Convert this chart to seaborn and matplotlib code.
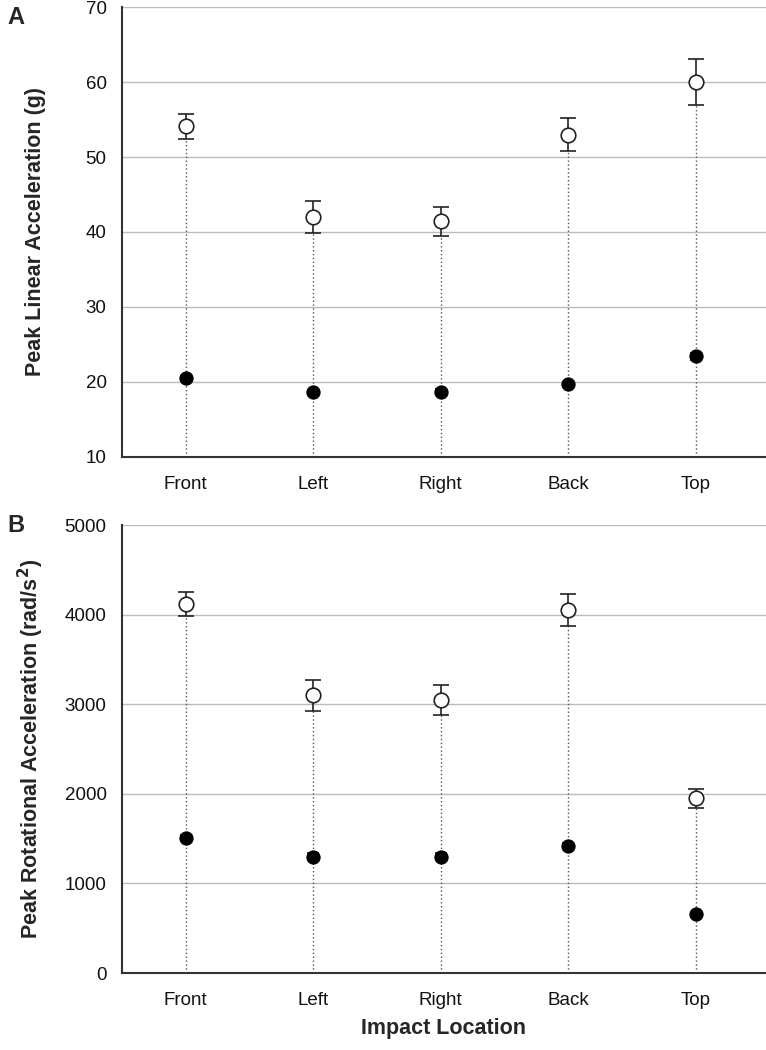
import pandas as pd
import matplotlib
matplotlib.use("Agg")
import matplotlib.pyplot as plt
import seaborn as sns

# data
locations = ['Front', 'Left', 'Right', 'Back', 'Top']

lin_open = [54.1, 42.0, 41.4, 53.0, 60.0]
lin_open_err = [1.7, 2.2, 2.0, 2.2, 3.1]
lin_fill = [20.5, 18.6, 18.7, 19.7, 23.4]
lin_fill_err = [0.3, 0.3, 0.3, 0.3, 0.5]

rot_open = [4120, 3100, 3050, 4050, 1950]
rot_open_err = [130, 175, 170, 180, 105]
rot_fill = [1510, 1300, 1300, 1420, 660]
rot_fill_err = [30, 40, 40, 30, 25]

sns.set_style("white")
plt.rcParams['font.family'] = ['Liberation Sans', 'DejaVu Sans']

fig = plt.figure(figsize=(7.66, 10.5), dpi=100)
ax_a = fig.add_axes([0.159, 0.5648, 0.841, 0.4285])
ax_b = fig.add_axes([0.159, 0.0733, 0.841, 0.4267])


def draw_panel(ax, op, op_err, fi, fi_err, ylim, yticks, ylabel):
    df = pd.DataFrame({'loc': locations, 'open': op, 'open_err': op_err,
                       'fill': fi, 'fill_err': fi_err})
    x = range(len(locations))
    ax.set_ylim(*ylim)
    ax.set_xlim(-0.5, 4.55)
    # dotted drop lines from axis up to the open marker
    ax.vlines(x, ylim[0], df['open'] - df['open_err'], colors='#555555',
              linestyles=(0, (1, 1.8)), linewidth=1.0, zorder=1)
    ax.errorbar(x, df['open'], yerr=df['open_err'], fmt='none', ecolor='#222222',
                elinewidth=1.2, capsize=6, capthick=1.2, zorder=2)
    ax.errorbar(x, df['fill'], yerr=df['fill_err'], fmt='none', ecolor='#111111',
                elinewidth=1.2, capsize=4, capthick=1.2, zorder=2)
    sns.scatterplot(data=df, x='loc', y='open', ax=ax, marker='o', s=110,
                    facecolor='white', edgecolor='#222222', linewidth=1.2, zorder=3)
    sns.scatterplot(data=df, x='loc', y='fill', ax=ax, marker='o', s=90,
                    color='black', edgecolor='black', linewidth=0.8, zorder=3)
    ax.set_xlim(-0.5, 4.55)
    ax.set_yticks(yticks)
    ax.yaxis.grid(True, color='#bbbbbb', linewidth=1.0)
    ax.xaxis.grid(False)
    ax.set_axisbelow(True)
    for s in ['top', 'right']:
        ax.spines[s].set_visible(False)
    for s in ['left', 'bottom']:
        ax.spines[s].set_color('#333333')
        ax.spines[s].set_linewidth(1.5)
    ax.tick_params(axis='both', direction='out', length=6, width=1.3,
                   color='#333333', labelsize=13.5, labelcolor='#111111', pad=5)
    ax.tick_params(axis='x', pad=8)
    ax.set_xlabel('')
    ax.set_ylabel(ylabel, fontsize=15.5, fontweight='bold')
    ax.yaxis.set_label_coords(-0.118, 0.5)


draw_panel(ax_a, lin_open, lin_open_err, lin_fill, lin_fill_err,
           (10, 70), [10, 20, 30, 40, 50, 60, 70], 'Peak Linear Acceleration (g)')
draw_panel(ax_b, rot_open, rot_open_err, rot_fill, rot_fill_err,
           (0, 5000), [0, 1000, 2000, 3000, 4000, 5000],
           'Peak Rotational Acceleration (rad/s$^\\mathbf{2}$)')

ax_b.set_xlabel('Impact Location', fontsize=15.5, fontweight='bold', labelpad=6)

fig.text(0.010, 0.983, 'A', fontsize=17, fontweight='bold', va='center')
fig.text(0.010, 0.500, 'B', fontsize=17, fontweight='bold', va='center')

fig.savefig('out.png', dpi=100)
